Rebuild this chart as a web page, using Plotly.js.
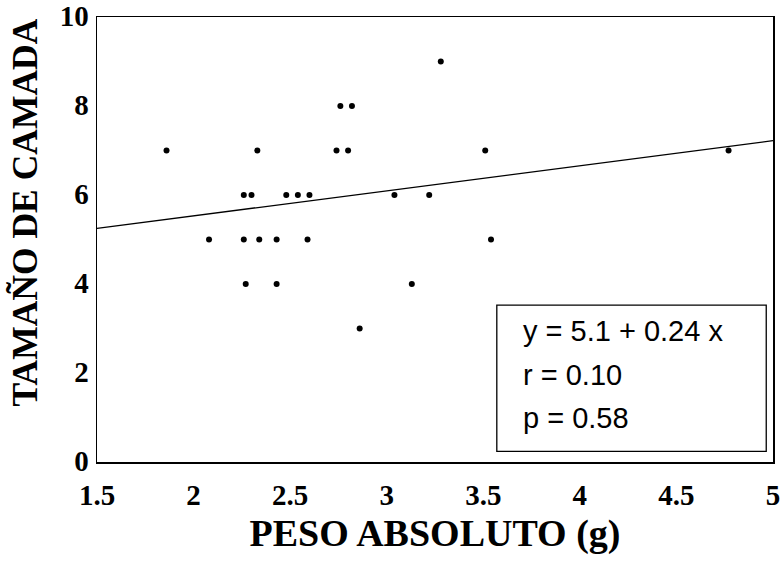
<!DOCTYPE html>
<html>
<head>
<meta charset="utf-8">
<script src="https://cdn.plot.ly/plotly-3.0.1.min.js"></script>
<style>html,body{margin:0;padding:0;background:#fff;}#chart{width:781px;height:575px;}</style>
</head>
<body>
<div id="chart"></div>
<script>
// Data
const pesoAbsoluto = [1.86, 2.33, 2.74, 2.80, 3.51, 4.77,
                      2.76, 2.82,
                      3.28,
                      2.26, 2.30, 2.48, 2.54, 2.60, 3.04, 3.22,
                      2.08, 2.26, 2.34, 2.43, 2.59, 3.54,
                      2.27, 2.43, 3.13,
                      2.86];
const tamanoCamada = [7, 7, 7, 7, 7, 7,
                      8, 8,
                      9,
                      6, 6, 6, 6, 6, 6, 6,
                      5, 5, 5, 5, 5, 5,
                      4, 4, 4,
                      3];
// Fitted line as drawn in the picture
const lineX = [1.5, 5];
const lineIntercept = 4.405;
const lineSlope = 0.563;
const statLines = ["y = 5.1 + 0.24 x", "r = 0.10", "p = 0.58"];
const statY = [2.94, 1.95, 0.98];
const xTicks = [1.5, 2, 2.5, 3, 3.5, 4, 4.5, 5];
const xTickText = ["1.5", "2", "2.5", "3", "3.5", "4", "4.5", "5"];
const yTicks = [0, 2, 4, 6, 8, 10];

const lineY = lineX.map(v => lineIntercept + lineSlope * v);
const serif = "Liberation Serif, Times New Roman, serif";
const sans = "Liberation Sans, Arial, sans-serif";

const traces = [
  {x: lineX, y: lineY, type: 'scatter', mode: 'lines',
   line: {color: '#000', width: 1.3}, hoverinfo: 'skip', showlegend: false},
  {x: pesoAbsoluto, y: tamanoCamada, type: 'scatter', mode: 'markers',
   marker: {color: '#000', size: 6}, showlegend: false}
];

const annotations = statLines.map((t, i) => ({
  x: 3.695, y: statY[i], xref: 'x', yref: 'y', text: t, showarrow: false,
  xanchor: 'left', yanchor: 'middle',
  font: {family: sans, size: 29, color: '#000'}
}));
annotations.push({
  xref: 'paper', yref: 'paper', x: -0.107, y: 0.56, text: 'TAMAÑO DE CAMADA',
  textangle: -90, showarrow: false, xanchor: 'center', yanchor: 'middle',
  font: {family: serif, size: 35.5, color: '#000', weight: 'bold'}
});

const layout = {
  width: 781, height: 575,
  margin: {l: 97, r: 8, t: 17, b: 113},
  paper_bgcolor: '#fff', plot_bgcolor: '#fff',
  xaxis: {
    range: [1.5, 5], tickvals: xTicks, ticktext: xTickText,
    showgrid: false, zeroline: false, ticks: '',
    showline: true, mirror: true, linecolor: '#000', linewidth: 1.5,
    ticklabelstandoff: 7, ticklabeloverflow: 'allow',
    tickfont: {family: serif, size: 29, color: '#000', weight: 'bold'},
    title: {text: 'PESO ABSOLUTO (g)', standoff: 9,
            font: {family: serif, size: 38, color: '#000', weight: 'bold'}}
  },
  yaxis: {
    range: [0, 10], tickvals: yTicks,
    showgrid: false, zeroline: false, ticks: '',
    showline: true, mirror: true, linecolor: '#000', linewidth: 1.5,
    ticklabelstandoff: 1, ticklabelshift: -1, ticklabeloverflow: 'allow',
    tickfont: {family: serif, size: 29, color: '#000', weight: 'bold'}
  },
  shapes: [{
    type: 'rect', xref: 'x', yref: 'y', x0: 3.57, x1: 4.965, y0: 0.24, y1: 3.524,
    line: {color: '#000', width: 1.3}, fillcolor: 'rgba(0,0,0,0)'
  }],
  annotations: annotations
};

Plotly.newPlot('chart', traces, layout, {displayModeBar: false, staticPlot: true});
</script>
</body>
</html>
